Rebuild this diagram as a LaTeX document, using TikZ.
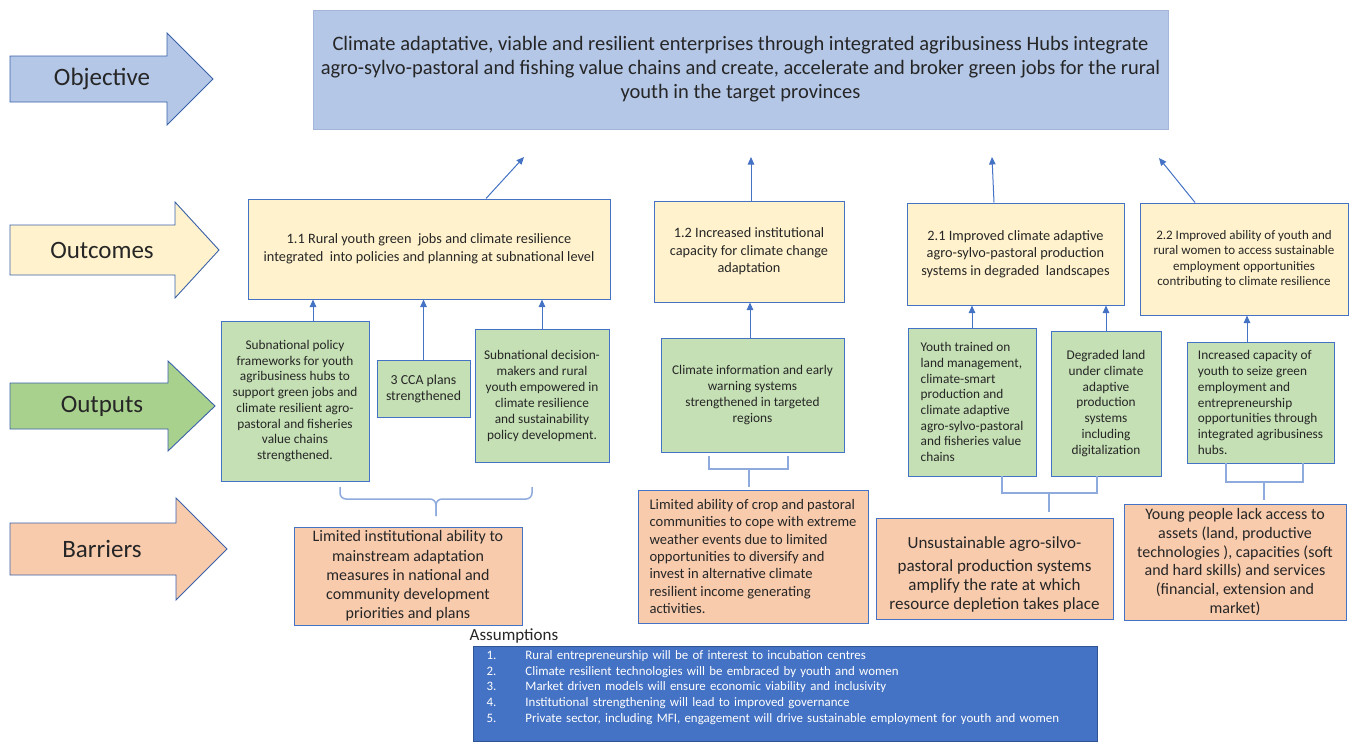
\documentclass[tikz,border=0pt]{standalone}
\usepackage{fontspec}
\setmainfont{Carlito}
\usetikzlibrary{arrows.meta,positioning,calc}
\definecolor{goalblue}{HTML}{B4C7E7}
\definecolor{goaledge}{HTML}{A3B6D9}
\definecolor{outcomeyellow}{HTML}{FFF2CC}
\definecolor{outputgreen}{HTML}{C5E0B4}
\definecolor{rowgreen}{HTML}{A9D18E}
\definecolor{barriersalmon}{HTML}{F8CBAD}
\definecolor{edgeblue}{HTML}{4472C4}
\definecolor{bracketblue}{HTML}{8FAADC}
\definecolor{assumblue}{HTML}{4472C4}
\definecolor{assumedge}{HTML}{2F5597}
\tikzset{rowarrow/.style={draw=edgeblue!85!black, line width=0.9pt}, rowlabel/.style={font=\fontsize{25}{30}\selectfont, text=black!85}, goalbox/.style={rectangle, draw=goaledge, line width=1pt, fill=goalblue, align=center, inner sep=0pt, text=black!85, font=\fontsize{20.5}{24}\selectfont}, outcome/.style={rectangle, draw=edgeblue, line width=1pt, fill=outcomeyellow, align=center, inner sep=0pt, text=black!85, font=\fontsize{14.3}{17.5}\selectfont}, output/.style={rectangle, draw=edgeblue, line width=1pt, fill=outputgreen, align=center, inner sep=0pt, text=black!85, font=\fontsize{13.3}{15.7}\selectfont}, barrier/.style={rectangle, draw=edgeblue, line width=1pt, fill=barriersalmon, align=center, inner sep=0pt, text=black!85, font=\fontsize{16}{19.2}\selectfont}, assumbox/.style={rectangle, draw=assumedge, line width=1pt, fill=assumblue, align=left, text=white, font=\fontsize{12.9}{15.7}\selectfont}, link/.style={-{Triangle[length=7.5pt,width=6.5pt]}, draw=edgeblue, line width=1pt}, bracket/.style={draw=bracketblue, line width=1.5pt}}

\begin{document}
\begin{tikzpicture}[x=1pt, y=-1pt]
\useasboundingbox (0,0) rectangle (1354,745);
% row arrows on the left
\foreach \nm/\lbl/\col/\yc/\bx/\tip/\hb/\hh in {objective/Objective/goalblue/79/167/213/23/46, outcomes/Outcomes/outcomeyellow/250/175/219/25/48, outputs/Outputs/rowgreen/406/168/215/23/45, barriers/Barriers/barriersalmon/549/176/227/26/51} {\draw[rowarrow, fill=\col] (10,\yc-\hb) -- (\bx,\yc-\hb) -- (\bx,\yc-\hh) -- (\tip,\yc) -- (\bx,\yc+\hh) -- (\bx,\yc+\hb) -- (10,\yc+\hb) -- cycle;
\node[rowlabel] (\nm) at (102,\yc) {\lbl};}
% objective
\node[goalbox, minimum width=855pt, minimum height=119pt] (goal) at (740.5,69.5) {Climate adaptative, viable and resilient enterprises through integrated agribusiness Hubs integrate\\agro-sylvo-pastoral and fishing value chains and create, accelerate and broker green jobs for the rural\\youth in the target provinces};
% outcomes
\node[outcome, minimum width=362pt, minimum height=100pt] (O11) at (429,249) {1.1 Rural youth green\ \ jobs and climate resilience\\integrated\ \ into policies and planning at subnational level};
\node[outcome, minimum width=190pt, minimum height=101pt] (O12) at (749,251.5) {1.2 Increased institutional\\capacity for climate change\\adaptation};
\node[outcome, minimum width=217pt, minimum height=102pt] (O21) at (1015.5,254) {2.1 Improved climate adaptive\\agro-sylvo-pastoral production\\systems in degraded\ \ landscapes};
\node[outcome, minimum width=208pt, minimum height=112pt, font=\fontsize{13}{15.3}\selectfont] (O22) at (1244,259) {2.2 Improved ability of youth and\\rural women to access sustainable\\employment opportunities\\contributing to climate resilience};
% outputs
\node[output, minimum width=148pt, minimum height=160pt] (P1) at (295,401) {Subnational policy\\frameworks for youth\\agribusiness hubs to\\support green jobs and\\climate resilient agro-\\pastoral and fisheries\\value chains\\strengthened.};
\node[output, minimum width=93pt, minimum height=57pt, font=\fontsize{13.8}{16}\selectfont] (P2) at (423.5,388.5) {3 CCA plans\\strengthened};
\node[output, minimum width=134pt, minimum height=133pt, font=\fontsize{13.3}{16}\selectfont] (P3) at (542,395.5) {Subnational decision-\\makers and rural\\youth empowered in\\climate resilience\\and sustainability\\policy development.};
\node[output, minimum width=183pt, minimum height=114pt] (P4) at (752.5,395) {Climate information and early\\warning systems\\strengthened in targeted\\regions};
\node[output, minimum width=128pt, minimum height=148pt, align=left] (P5) at (972,402) {Youth trained on\\land management,\\climate-smart\\production and\\climate adaptive\\agro-sylvo-pastoral\\and fisheries value\\chains};
\node[output, minimum width=110pt, minimum height=145pt, font=\fontsize{13.3}{15.8}\selectfont] (P6) at (1106,403.5) {Degraded land\\under climate\\adaptive\\production\\systems\\including\\digitalization};
\node[output, minimum width=147pt, minimum height=121pt, align=left] (P7) at (1260.5,402.5) {Increased capacity of\\youth to seize green\\employment and\\entrepreneurship\\opportunities through\\integrated agribusiness\\hubs.};
% barriers
\node[barrier, minimum width=228pt, minimum height=98pt] (B1) at (408,576) {Limited institutional ability to\\mainstream adaptation\\measures in national and\\community development\\priorities and plans};
\node[barrier, minimum width=230pt, minimum height=133pt, align=left, font=\fontsize{14.6}{17.3}\selectfont] (B2) at (753,556.5) {Limited ability of crop and pastoral\\communities to cope with extreme\\weather events due to limited\\opportunities to diversify and\\invest in alternative climate\\resilient income generating\\activities.};
\node[barrier, minimum width=237pt, minimum height=101pt, font=\fontsize{17}{19}\selectfont] (B3) at (994.5,568.5) {\rule{0pt}{24pt}Unsustainable agro-silvo-\\[4pt]pastoral production systems\\amplify the rate at which\\resource depletion takes place};
\node[barrier, minimum width=222pt, minimum height=116pt, font=\fontsize{16}{18.7}\selectfont] (B4) at (1235,562) {Young people lack access to\\assets (land, productive\\technologies ), capacities (soft\\and hard skills) and services\\(financial, extension and\\market)};
% assumptions
\node[font=\fontsize{17}{19}\selectfont, text=black!85] (assumtitle) at (514,636) {Assumptions};
\node[assumbox, anchor=north west, text width=598pt, inner xsep=13pt, inner ysep=4pt] (assum) at (473,646) {\makebox[39pt][l]{1.}Rural entrepreneurship will be of interest to incubation centres\\\makebox[39pt][l]{2.}Climate resilient technologies will be embraced by youth and women\\\makebox[39pt][l]{3.}Market driven models will ensure economic viability and inclusivity\\\makebox[39pt][l]{4.}Institutional strengthening will lead to improved governance\\\makebox[39pt][l]{5.}Private sector, including MFI, engagement will drive sustainable employment for youth and women\\\mbox{}};
% outcomes -> objective
\coordinate (t11) at (524,157);
\coordinate (t12) at (751,157);
\coordinate (t21) at (992,157);
\coordinate (t22) at (1159,158);
\draw[link] ($(O11.north)+(57,0)$) -- (t11);
\draw[link] ($(O12.north)+(2,0)$) -- (t12);
\draw[link] ($(O21.north)+(-21.5,0)$) -- (t21);
\draw[link] ($(O22.north)+(-49,0)$) -- (t22);
% outputs -> outcomes
\draw[link] ($(P1.north)+(18,0)$) -- ($(P1.north |- O11.south)+(18,0)$);
\draw[link] (P2.north) -- (P2.north |- O11.south);
\draw[link] (P3.north) -- (P3.north |- O11.south);
\draw[link] ($(P4.north)+(-2.5,0)$) -- ($(P4.north |- O12.south)+(-2.5,0)$);
\draw[link] (P5.north) -- (P5.north |- O21.south);
\draw[link] (P6.north) -- (P6.north |- O21.south);
\draw[link] ($(P7.north)+(-13.5,0)$) -- ($(P7.north |- O22.south)+(-13.5,0)$);
% brackets from outputs down to barriers
\coordinate (b1l) at (340,487); \coordinate (b1r) at (532,487); \coordinate (b1j) at (436,499); \coordinate (b1s) at (436,516);
\draw[bracket, rounded corners=6pt] (b1l) |- (b1j) -- (b1s);
\draw[bracket, rounded corners=6pt] (b1r) |- (b1j) -- (b1s);
\coordinate (b2l) at (709,456); \coordinate (b2r) at (788,456); \coordinate (b2j) at (749,469); \coordinate (b2s) at (749,487);
\draw[bracket] (b2l) |- (b2j) -| (b2r);
\draw[bracket] (b2j) -- (b2s);
\coordinate (b3l) at (1002,476); \coordinate (b3r) at (1097,476); \coordinate (b3j) at (1049,493); \coordinate (b3s) at (1049,512);
\draw[bracket] (b3l) |- (b3j) -| (b3r);
\draw[bracket] (b3j) -- (b3s);
\coordinate (b4l) at (1226,463); \coordinate (b4r) at (1303,463); \coordinate (b4j) at (1264,482); \coordinate (b4s) at (1264,500);
\draw[bracket] (b4l) |- (b4j) -| (b4r);
\draw[bracket] (b4j) -- (b4s);
\end{tikzpicture}
\end{document}
